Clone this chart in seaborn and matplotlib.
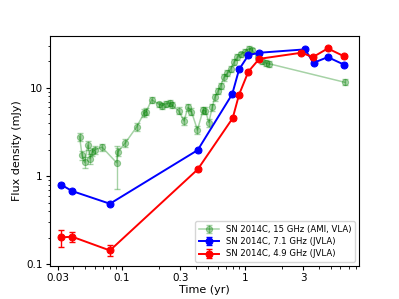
import numpy as np
import pandas as pd
import matplotlib
matplotlib.use('Agg')
import matplotlib.pyplot as plt
from matplotlib.ticker import FixedLocator, FixedFormatter, NullFormatter
from matplotlib.legend_handler import HandlerTuple
import seaborn as sns

# SN 2014C, 15 GHz (AMI, VLA)
t15 = [0.0453, 0.0475, 0.0498, 0.053, 0.055, 0.0574, 0.0606, 0.069, 0.0906, 0.0925,
       0.107, 0.132, 0.152, 0.158, 0.175, 0.201, 0.214, 0.228, 0.247, 0.255,
       0.29, 0.32, 0.345, 0.368, 0.412, 0.458, 0.479, 0.51, 0.543, 0.57,
       0.608, 0.636, 0.677, 0.72, 0.768, 0.817, 0.87, 0.927, 1.0, 1.08,
       1.15, 1.27, 1.38, 1.49, 1.58, 6.5]
f15 = [2.81, 1.72, 1.43, 2.25, 1.58, 1.88, 2.0, 2.13, 1.42, 1.87,
       2.39, 3.61, 5.2, 5.4, 7.35, 6.5, 6.3, 6.6, 6.74, 6.44,
       5.5, 4.23, 6.0, 5.4, 3.34, 5.6, 5.5, 4.05, 6.0, 7.8,
       9.3, 10.6, 13.2, 14.7, 16.5, 19.6, 22.4, 24.0, 25.5, 27.9,
       26.7, 22.4, 20.1, 19.1, 18.8, 11.6]
e15_lo = [0.3, 0.2, 0.2, 0.25, 0.2, 0.2, 0.2, 0.2, 0.7, 0.2,
          0.25, 0.35, 0.5, 0.5, 0.6, 0.5, 0.5, 0.5, 0.5, 0.5,
          0.5, 0.4, 0.5, 0.5, 0.35, 0.5, 0.5, 0.4, 0.5, 0.7,
          0.8, 0.9, 1.1, 1.2, 1.3, 1.5, 1.7, 1.8, 1.9, 2.0,
          2.0, 1.7, 1.5, 1.5, 1.4, 0.9]
e15_hi = [0.3, 0.2, 0.2, 0.25, 0.2, 0.2, 0.2, 0.2, 0.8, 0.2,
          0.25, 0.35, 0.5, 0.5, 0.6, 0.5, 0.5, 0.5, 0.5, 0.5,
          0.5, 0.4, 0.5, 0.5, 0.35, 0.5, 0.5, 0.4, 0.5, 0.7,
          0.8, 0.9, 1.1, 1.2, 1.3, 1.5, 1.7, 1.8, 1.9, 2.0,
          2.0, 1.7, 1.5, 1.5, 1.4, 0.9]

# SN 2014C, 7.1 GHz (JVLA)
t71 = [0.032, 0.0394, 0.080, 0.414, 0.79, 0.898, 1.07, 1.31, 3.08, 3.63, 4.73, 6.4]
f71 = [0.80, 0.676, 0.485, 1.97, 8.5, 16.2, 23.6, 25.1, 27.4, 19.3, 22.4, 18.4]
e71 = [0.03, 0.025, 0.02, 0.08, 0.3, 0.6, 0.9, 1.0, 1.1, 0.8, 0.9, 0.8]

# SN 2014C, 4.9 GHz (JVLA)
t49 = [0.032, 0.0394, 0.080, 0.414, 0.797, 0.898, 1.07, 1.31, 2.89, 3.58, 4.73, 6.4]
f49 = [0.201, 0.205, 0.143, 1.19, 4.54, 8.4, 15.36, 21.4, 25.1, 22.4, 28.1, 22.9]
e49 = [0.045, 0.025, 0.02, 0.05, 0.2, 0.35, 0.6, 0.8, 1.0, 0.9, 1.1, 0.9]

xticks = [0.03, 0.1, 0.3, 1, 3]
xticklabels = ['0.03', '0.1', '0.3', '1', '3']
yticks = [0.1, 1, 10]
yticklabels = ['0.1', '1', '10']

df15 = pd.DataFrame({'t': t15, 'f': f15})
df71 = pd.DataFrame({'t': t71, 'f': f71})
df49 = pd.DataFrame({'t': t49, 'f': f49})

fig, ax = plt.subplots(figsize=(3.99, 2.99), dpi=100)

series = [
    (df15, [e15_lo, e15_hi], 'green', 0.35, 1.1, 4.5, 'SN 2014C, 15 GHz (AMI, VLA)'),
    (df71, e71, 'blue', 1.0, 1.4, 5, 'SN 2014C, 7.1 GHz (JVLA)'),
    (df49, e49, 'red', 1.0, 1.4, 5, 'SN 2014C, 4.9 GHz (JVLA)'),
]
handles = []
labels = []
for d, err, col, a, lw, ms, lab in series:
    sns.lineplot(data=d, x='t', y='f', ax=ax, color=col, alpha=a, lw=lw,
                 marker='o', markersize=ms, markeredgecolor=col,
                 sort=False, estimator=None, legend=False)
    line = ax.lines[-1]
    eb = ax.errorbar(d['t'], d['f'], yerr=err, fmt='none', ecolor=col,
                     alpha=a, elinewidth=1.0, capsize=2.5)
    handles.append((eb, line))
    labels.append(lab)

ax.set_xscale('log')
ax.set_yscale('log')
ax.set_xlim(0.026, 8.5)
ax.set_ylim(0.095, 39)
ax.xaxis.set_major_locator(FixedLocator(xticks))
ax.xaxis.set_major_formatter(FixedFormatter(xticklabels))
ax.xaxis.set_minor_formatter(NullFormatter())
ax.yaxis.set_major_locator(FixedLocator(yticks))
ax.yaxis.set_major_formatter(FixedFormatter(yticklabels))
ax.yaxis.set_minor_formatter(NullFormatter())
ax.tick_params(which='major', labelsize=7.5, length=3, pad=2)
ax.tick_params(which='minor', length=1.8)
ax.set_xlabel('Time (yr)', fontsize=8, labelpad=1.5)
ax.set_ylabel('Flux density (mJy)', fontsize=8, labelpad=3)

ax.legend(handles, labels, loc='lower right', fontsize=6.1, borderpad=0.4,
          labelspacing=0.4, handlelength=2.4,
          handler_map={tuple: HandlerTuple(ndivide=1)})

fig.savefig('out.png', dpi=100)
